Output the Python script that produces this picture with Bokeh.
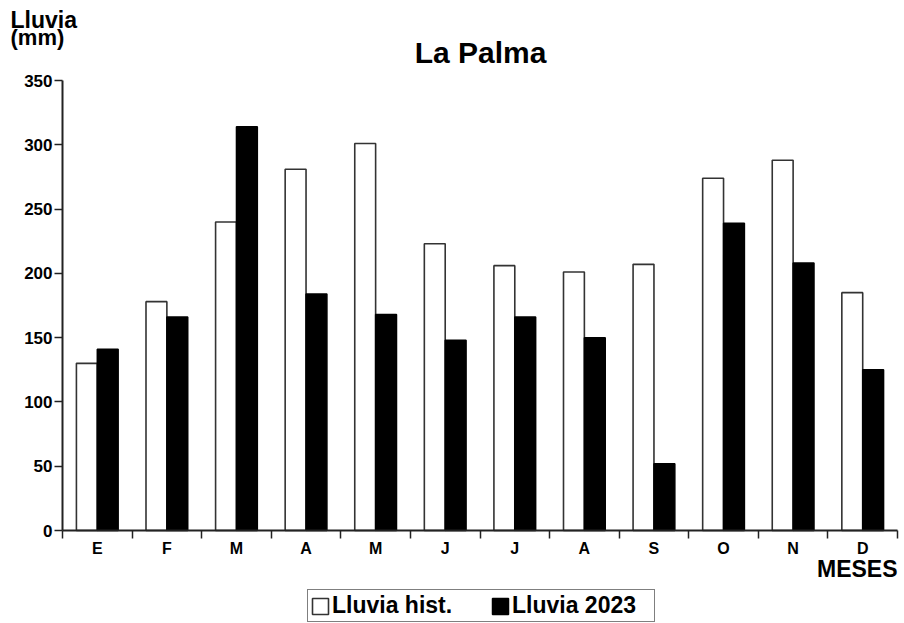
from bokeh.plotting import figure
from bokeh.models import (FixedTicker, Label, Legend, LegendItem, Range1d,
                          ColumnDataSource)
from bokeh.embed import file_html
from bokeh.resources import INLINE

months = ["E", "F", "M", "A", "M", "J", "J", "A", "S", "O", "N", "D"]
lluvia_hist = [130, 178, 240, 281, 301, 223, 206, 201, 207, 274, 288, 185]
lluvia_2023 = [141, 166, 314, 184, 168, 148, 166, 150, 52, 239, 208, 125]
y_ticks = [0, 50, 100, 150, 200, 250, 300, 350]
Y_MAX = 350

FONT = "Liberation Sans"

# canvas layout (pixels): the frame fills the canvas, the axes are fixed inside it
W, H = 900, 623
AX_LEFT, AX_RIGHT, AX_TOP, AX_BOTTOM = 62, 897, 80, 530
n = len(months)
cw = (AX_RIGHT - AX_LEFT) / n
py = (AX_BOTTOM - AX_TOP) / Y_MAX
x_range = Range1d(-AX_LEFT / cw, n + (W - AX_RIGHT) / cw)
y_range = Range1d(-(H - AX_BOTTOM) / py, Y_MAX + AX_TOP / py)

idx = list(range(n))
src = ColumnDataSource(dict(
    x_hist=[i + 0.35 for i in idx],
    x_2023=[i + 0.65 for i in idx],
    hist=lluvia_hist,
    y2023=lluvia_2023,
))

p = figure(width=W, height=H, output_backend="svg", toolbar_location=None,
           title=None, x_range=x_range, y_range=y_range,
           min_border=0, min_border_left=0, min_border_right=0,
           min_border_top=0, min_border_bottom=0)
p.xgrid.visible = False
p.ygrid.visible = False
p.outline_line_color = None

r1 = p.vbar(x="x_hist", top="hist", width=0.3, source=src,
            fill_color="white", line_color="#333333", line_width=1.6)
r2 = p.vbar(x="x_2023", top="y2023", width=0.3, source=src,
            fill_color="black", line_color="black", line_width=1.5)

centers = [i + 0.5 for i in idx]
bounds = [float(i) for i in range(n + 1)]
xa = p.xaxis[0]
xa.fixed_location = 0
xa.bounds = (0, n)
xa.ticker = FixedTicker(ticks=centers, minor_ticks=bounds)
xa.major_label_overrides = {c: m for c, m in zip(centers, months)}
xa.major_tick_out = 0
xa.major_tick_in = 0
xa.minor_tick_out = 8
xa.minor_tick_in = 0
xa.minor_tick_line_color = "#222222"
xa.minor_tick_line_width = 1.5
xa.axis_line_color = "#222222"
xa.axis_line_width = 2
xa.major_label_standoff = 1
xa.major_label_text_font = FONT
xa.major_label_text_font_style = "bold"
xa.major_label_text_font_size = "16px"
xa.major_label_text_color = "black"

ya = p.yaxis[0]
ya.fixed_location = 0
ya.bounds = (0, Y_MAX)
ya.ticker = FixedTicker(ticks=y_ticks, minor_ticks=[])
ya.major_tick_out = 8
ya.major_tick_in = 0
ya.minor_tick_out = 0
ya.minor_tick_in = 0
ya.major_tick_line_color = "#222222"
ya.major_tick_line_width = 1.5
ya.axis_line_color = "#222222"
ya.axis_line_width = 2
ya.major_label_standoff = 2
ya.major_label_text_font = FONT
ya.major_label_text_font_style = "bold"
ya.major_label_text_font_size = "17px"
ya.major_label_text_color = "black"

def lab(text, x, y_from_top, size, align="left"):
    p.add_layout(Label(x=x, y=H - y_from_top, x_units="screen", y_units="screen",
                       text=text, text_font=FONT, text_font_style="bold",
                       text_font_size=size, text_color="black",
                       text_align=align, text_baseline="alphabetic"))

lab("Lluvia", 10, 19, "23px")
lab("(mm)", 10, 37, "22px")
lab("La Palma", 480, 52, "30px", "center")
lab("MESES", 897, 568, "23px", "right")

legend = Legend(items=[LegendItem(label="Lluvia hist.", renderers=[r1]),
                       LegendItem(label="Lluvia 2023", renderers=[r2])],
                orientation="horizontal", location=(307, 1),
                glyph_width=20, glyph_height=20, label_standoff=2,
                label_width=140, spacing=18, padding=2, margin=0,
                label_text_font=FONT, label_text_font_style="bold",
                label_text_font_size="23px", label_text_color="black",
                border_line_color="black", border_line_width=1.5,
                background_fill_color="white", background_fill_alpha=1)
p.add_layout(legend, "center")

open("out.html", "w").write(file_html(p, INLINE))
